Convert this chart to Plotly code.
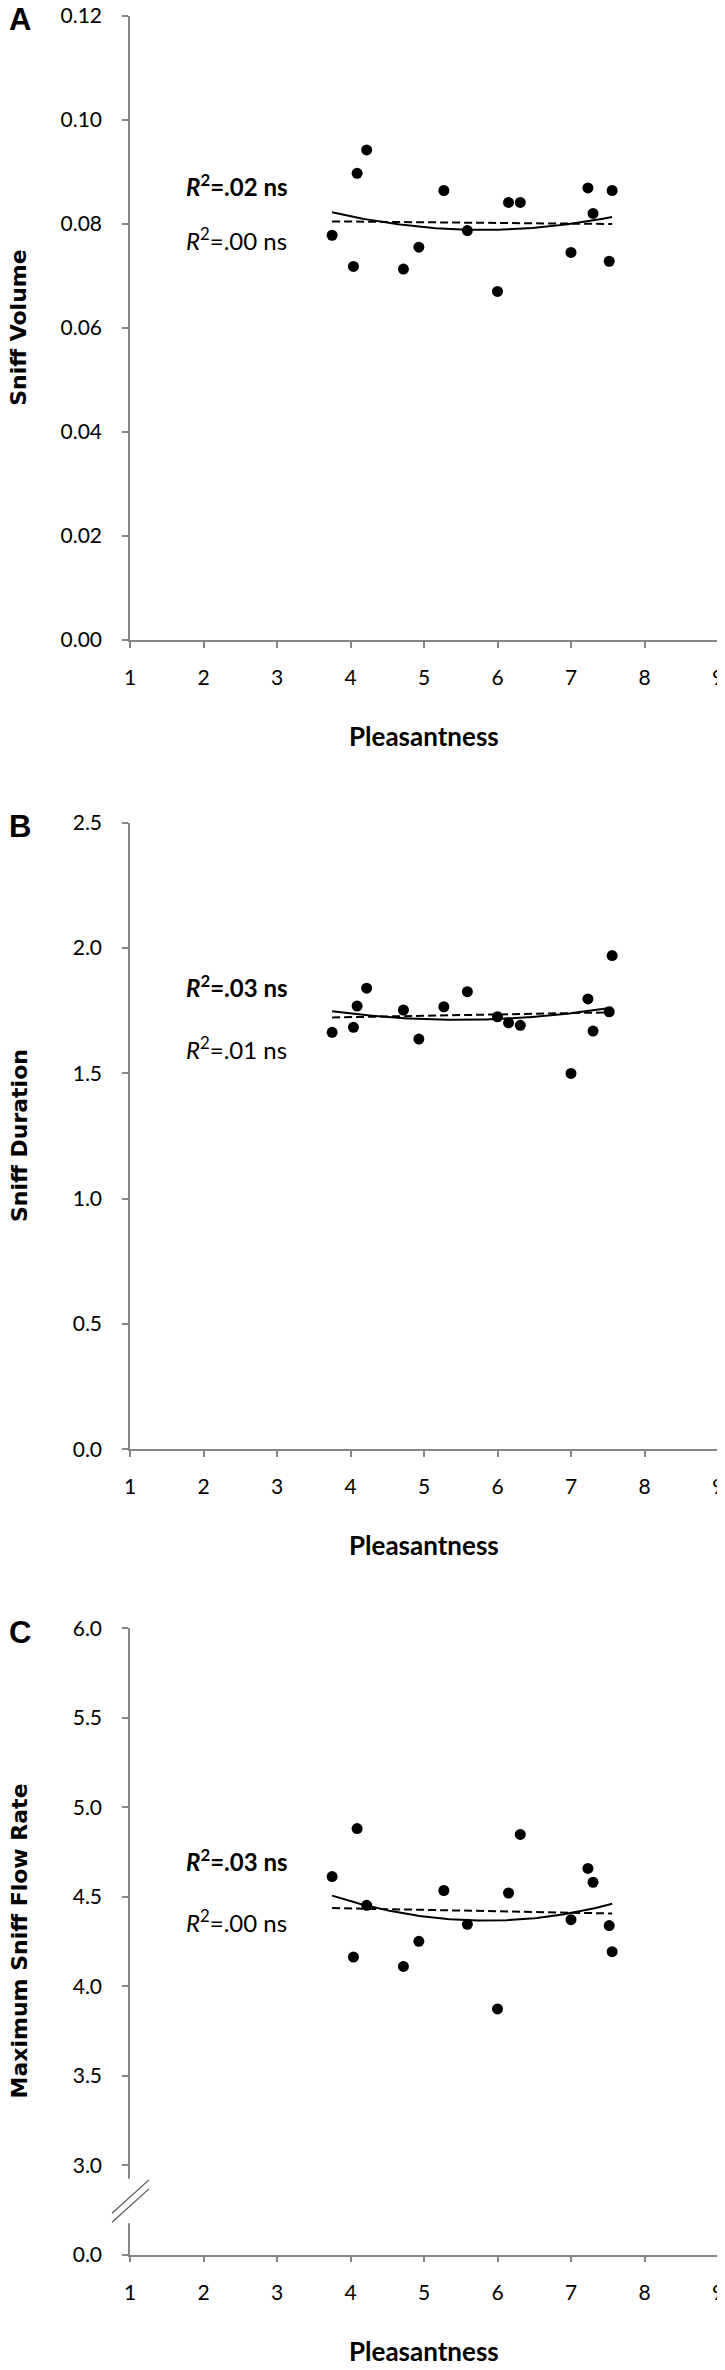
import numpy as np
import plotly.graph_objects as go

# ---------------- data ----------------
pleasantness = [3.75, 4.04, 4.09, 4.22, 4.72, 4.93, 5.27, 5.59, 6.00, 6.15, 6.31, 7.00, 7.23, 7.30, 7.52, 7.56]
sniff_volume = [0.0778, 0.0718, 0.0897, 0.0942, 0.0713, 0.0755, 0.0864, 0.0787, 0.0670, 0.0841, 0.0841,
                0.0745, 0.0869, 0.0820, 0.0728, 0.0864]
sniff_duration = [1.664, 1.684, 1.769, 1.840, 1.753, 1.637, 1.766, 1.826, 1.726, 1.702, 1.692,
                  1.500, 1.797, 1.669, 1.746, 1.970]
max_flow_rate = [4.613, 4.163, 4.881, 4.452, 4.111, 4.251, 4.535, 4.346, 3.873, 4.521, 4.848,
                 4.372, 4.658, 4.581, 4.339, 4.193]

panel_letters = ["A", "B", "C"]
y_titles = ["Sniff Volume", "Sniff Duration", "Maximum Sniff Flow Rate"]
r2_quadratic = [".02", ".03", ".03"]
r2_linear = [".00", ".01", ".00"]
x_ticks = [1, 2, 3, 4, 5, 6, 7, 8, 9]
yticks_a = [0.00, 0.02, 0.04, 0.06, 0.08, 0.10, 0.12]
yticks_b = [0.0, 0.5, 1.0, 1.5, 2.0, 2.5]
yticks_c = [2.5, 3.0, 3.5, 4.0, 4.5, 5.0, 5.5, 6.0]
yticktext_c = ["0.0", "3.0", "3.5", "4.0", "4.5", "5.0", "5.5", "6.0"]

# ---------------- layout geometry (page pixels of the 725 x 2370 window) ----------------
OFF = 8                            # default body margin of the written html page
W, H = 725 - OFF, 2370 - 2 * OFF   # fill the window without any scrollbar


def px(x):
    return (x - OFF) / W


def py(y):
    return 1 - (y - OFF) / H


X0, X1 = 130, 718
panels_px = [(15.7, 640.0), (822.8, 1449.3), (1628.3, 2254.7)]  # (top, bottom)

AXIS_COLOR = "#868686"
TICK_FONT = dict(family="Lato, sans-serif", size=21, color="black")

fig = go.Figure()

series = [sniff_volume, sniff_duration, max_flow_rate]
xs = np.array(pleasantness)
xfit = np.linspace(xs.min(), xs.max(), 120)

for i, ys in enumerate(series):
    sfx = "" if i == 0 else str(i + 1)
    ys = np.array(ys)
    q = np.polyfit(xs, ys, 2)
    l = np.polyfit(xs, ys, 1)
    fig.add_trace(go.Scatter(x=xfit, y=np.polyval(l, xfit), mode="lines",
                             line=dict(color="black", width=2, dash="8px,4px"),
                             xaxis="x" + sfx, yaxis="y" + sfx, showlegend=False, hoverinfo="skip"))
    fig.add_trace(go.Scatter(x=xfit, y=np.polyval(q, xfit), mode="lines",
                             line=dict(color="black", width=2),
                             xaxis="x" + sfx, yaxis="y" + sfx, showlegend=False, hoverinfo="skip"))
    fig.add_trace(go.Scatter(x=xs, y=ys, mode="markers",
                             marker=dict(color="black", size=11),
                             xaxis="x" + sfx, yaxis="y" + sfx, showlegend=False))

layout = dict(width=W, height=H, margin=dict(l=0, r=0, t=0, b=0),
              paper_bgcolor="white", plot_bgcolor="white", showlegend=False)

yranges = [[0, 0.12], [0, 2.5], [2.5, 6.0]]
ytickvals = [yticks_a, yticks_b, yticks_c]
yticktexts = [[f"{v:.2f}" for v in yticks_a], [f"{v:.1f}" for v in yticks_b], yticktext_c]

annotations = []
shapes = []
for i in range(3):
    sfx = "" if i == 0 else str(i + 1)
    top, bot = panels_px[i]
    dom_y = [py(bot), py(top)]
    layout["xaxis" + sfx] = dict(domain=[px(X0), px(X1)], range=[1, 9], anchor="y" + sfx,
                                 tickvals=x_ticks, ticks="outside", ticklen=6, tickwidth=1.5,
                                 tickcolor=AXIS_COLOR, showline=True, linecolor=AXIS_COLOR,
                                 linewidth=1.5, showgrid=False, zeroline=False,
                                 tickfont=TICK_FONT, ticklabelstandoff=12, automargin=False,
                                 ticklabeloverflow="allow", fixedrange=True)
    layout["yaxis" + sfx] = dict(domain=dom_y, range=yranges[i], anchor="x" + sfx,
                                 tickvals=ytickvals[i], ticktext=yticktexts[i],
                                 ticks="outside", ticklen=6, tickwidth=1.5,
                                 tickcolor=AXIS_COLOR, showline=True, linecolor=AXIS_COLOR,
                                 linewidth=1.5, showgrid=False, zeroline=False,
                                 tickfont=TICK_FONT, ticklabelstandoff=16, automargin=False,
                                 ticklabeloverflow="allow", fixedrange=True)
    # panel letter
    annotations.append(dict(text=f"<b>{panel_letters[i]}</b>", xref="paper", yref="paper",
                            x=px(20), y=py(top + 4), xanchor="center", yanchor="middle",
                            showarrow=False, font=dict(family="Liberation Sans, Arial, sans-serif",
                                                       size=31, color="black")))
    # y title
    annotations.append(dict(text=f"<b>{y_titles[i]}</b>", xref="paper", yref="paper",
                            x=px(19), y=py((top + bot) / 2), xanchor="center", yanchor="middle",
                            textangle=-90, showarrow=False,
                            font=dict(family="DejaVu Sans, sans-serif", size=22, color="black")))
    # x title
    annotations.append(dict(text="<b>Pleasantness</b>", xref="paper", yref="paper",
                            x=px((X0 + X1) / 2), y=py(bot + 96), xanchor="center",
                            yanchor="middle", showarrow=False,
                            font=dict(family="Lato, sans-serif", size=26, color="black")))

# R² labels (data coordinates of each panel)
r2_pos = [(0.0875, 0.0771), (1.849, 1.601), (4.704, 4.363)]
for i in range(3):
    sfx = "" if i == 0 else str(i + 1)
    yb, yn = r2_pos[i]
    annotations.append(dict(text=f"<b><i>R</i><sup>2</sup>={r2_quadratic[i]} ns</b>",
                            xref="x" + sfx, yref="y" + sfx, x=1.73, y=yb,
                            xanchor="left", yanchor="middle", showarrow=False,
                            font=dict(family="Lato, sans-serif", size=24, color="black")))
    annotations.append(dict(text=f"<i>R</i><sup>2</sup>={r2_linear[i]} ns",
                            xref="x" + sfx, yref="y" + sfx, x=1.73, y=yn,
                            xanchor="left", yanchor="middle", showarrow=False,
                            font=dict(family="Lato, sans-serif", size=24, color="black")))

# axis break on panel C
shapes.append(dict(type="rect", xref="paper", yref="y3", x0=px(122), x1=px(138),
                   y0=2.676, y1=2.924, fillcolor="white", line=dict(width=0), layer="above"))
shapes.append(dict(type="line", xref="paper", yref="y3", x0=px(112), x1=px(149),
                   y0=2.732, y1=2.918, line=dict(color="#555555", width=1.2), layer="above"))
shapes.append(dict(type="line", xref="paper", yref="y3", x0=px(112), x1=px(149),
                   y0=2.681, y1=2.868, line=dict(color="#555555", width=1.2), layer="above"))

layout["annotations"] = annotations
layout["shapes"] = shapes
fig.update_layout(**layout)

fig.write_html("out.html")
